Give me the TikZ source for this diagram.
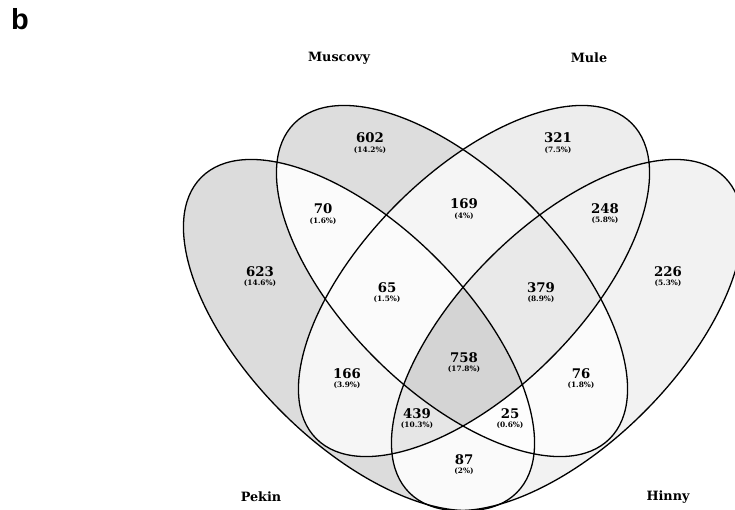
\documentclass[tikz,border=0pt]{standalone}
\usepackage{fontspec}
\setmainfont{DejaVu Serif}
\newfontfamily\panelfont{Liberation Sans}
\newcommand\ra{223pt}
\newcommand\rb{109pt}
\newcommand\inP{\clip[rotate around={-45:(cP)}] (cP) ellipse [x radius=\ra, y radius=\rb];}
\newcommand\inM{\clip[rotate around={-45:(cM)}] (cM) ellipse [x radius=\ra, y radius=\rb];}
\newcommand\inU{\clip[rotate around={45:(cU)}] (cU) ellipse [x radius=\ra, y radius=\rb];}
\newcommand\inH{\clip[rotate around={45:(cH)}] (cH) ellipse [x radius=\ra, y radius=\rb];}
\newcommand\exP{\clip[rotate around={-45:(cP)}] (-3000,-3000) rectangle (3000,3000) (cP) ellipse [x radius=\ra, y radius=\rb];}
\newcommand\exM{\clip[rotate around={-45:(cM)}] (-3000,-3000) rectangle (3000,3000) (cM) ellipse [x radius=\ra, y radius=\rb];}
\newcommand\exU{\clip[rotate around={45:(cU)}] (-3000,-3000) rectangle (3000,3000) (cU) ellipse [x radius=\ra, y radius=\rb];}
\newcommand\exH{\clip[rotate around={45:(cH)}] (-3000,-3000) rectangle (3000,3000) (cH) ellipse [x radius=\ra, y radius=\rb];}
\newcommand\paint[1]{\fill[black!#1] (-10,-10) rectangle (760,530);}
\begin{document}
\begin{tikzpicture}[x=1pt,y=-1pt,
  region/.style={even odd rule},
  num/.style={inner sep=0pt, font=\fontsize{13.3}{13.3}\selectfont\bfseries},
  pct/.style={inner sep=0pt, font=\fontsize{7.4}{7.4}\selectfont\bfseries},
  cat/.style={inner sep=0pt, font=\fontsize{12.8}{12.8}\selectfont\bfseries},
  outline/.style={draw=black, line width=1.3pt}]
\useasboundingbox (0,0) rectangle (735,509);
\clip (0,0) rectangle (735,509);
\coordinate (cP) at (359,335);
\coordinate (cM) at (452,281);
\coordinate (cU) at (474,281);
\coordinate (cH) at (567,335);
% single sets
\begin{scope}[region]\inP\exM\exU\exH\paint{13.9}\end{scope}
\begin{scope}[region]\inM\exP\exU\exH\paint{13.5}\end{scope}
\begin{scope}[region]\inU\exP\exM\exH\paint{7.2}\end{scope}
\begin{scope}[region]\inH\exP\exM\exU\paint{5.1}\end{scope}
% pairs
\begin{scope}[region]\inP\inM\exU\exH\paint{1.6}\end{scope}
\begin{scope}[region]\inM\inU\exP\exH\paint{3.8}\end{scope}
\begin{scope}[region]\inU\inH\exP\exM\paint{5.5}\end{scope}
\begin{scope}[region]\inP\inH\exM\exU\paint{1.9}\end{scope}
\begin{scope}[region]\inP\inU\exM\exH\paint{3.7}\end{scope}
\begin{scope}[region]\inM\inH\exP\exU\paint{1.7}\end{scope}
% triples
\begin{scope}[region]\inP\inM\inU\exH\paint{1.5}\end{scope}
\begin{scope}[region]\inM\inU\inH\exP\paint{8.5}\end{scope}
\begin{scope}[region]\inP\inU\inH\exM\paint{9.8}\end{scope}
\begin{scope}[region]\inP\inM\inH\exU\paint{0.6}\end{scope}
% all
\begin{scope}[region]\inP\inM\inU\inH\paint{16.9}\end{scope}
% outlines
\draw[outline, rotate around={-45:(cP)}] (cP) ellipse [x radius=\ra, y radius=\rb];
\draw[outline, rotate around={-45:(cM)}] (cM) ellipse [x radius=\ra, y radius=\rb];
\draw[outline, rotate around={45:(cU)}] (cU) ellipse [x radius=\ra, y radius=\rb];
\draw[outline, rotate around={45:(cH)}] (cH) ellipse [x radius=\ra, y radius=\rb];
% labels
\node[inner sep=0pt, font=\panelfont\fontsize{29}{29}\selectfont\bfseries] (panel) at (20,19) {b};
\node[cat] (lM) at (339,58) {Muscovy};
\node[cat] (lU) at (589,58) {Mule};
\node[cat] (lP) at (261,497) {Pekin};
\node[cat] (lH) at (668,497) {Hinny};
\node[num] (n602) at (370,138) {602}; \node[pct] (p602) at (370,150) {(14.2\%)};
\node[num] (n321) at (558,138) {321}; \node[pct] (p321) at (558,150) {(7.5\%)};
\node[num] (n70) at (323,209) {70}; \node[pct] (p70) at (323,221) {(1.6\%)};
\node[num] (n169) at (464,204) {169}; \node[pct] (p169) at (464,216) {(4\%)};
\node[num] (n248) at (605,209) {248}; \node[pct] (p248) at (605,220) {(5.8\%)};
\node[num] (n623) at (260,272) {623}; \node[pct] (p623) at (260,283) {(14.6\%)};
\node[num] (n226) at (668,272) {226}; \node[pct] (p226) at (668,283) {(5.3\%)};
\node[num] (n65) at (387,288) {65}; \node[pct] (p65) at (387,299) {(1.5\%)};
\node[num] (n379) at (541,288) {379}; \node[pct] (p379) at (541,299) {(8.9\%)};
\node[num] (n758) at (464,358) {758}; \node[pct] (p758) at (464,369) {(17.8\%)};
\node[num] (n166) at (347,374) {166}; \node[pct] (p166) at (347,385) {(3.9\%)};
\node[num] (n76) at (581,374) {76}; \node[pct] (p76) at (581,385) {(1.8\%)};
\node[num] (n439) at (417,414) {439}; \node[pct] (p439) at (417,425) {(10.3\%)};
\node[num] (n25) at (510,414) {25}; \node[pct] (p25) at (510,425) {(0.6\%)};
\node[num] (n87) at (464,460) {87}; \node[pct] (p87) at (464,471) {(2\%)};
\end{tikzpicture}
\end{document}
